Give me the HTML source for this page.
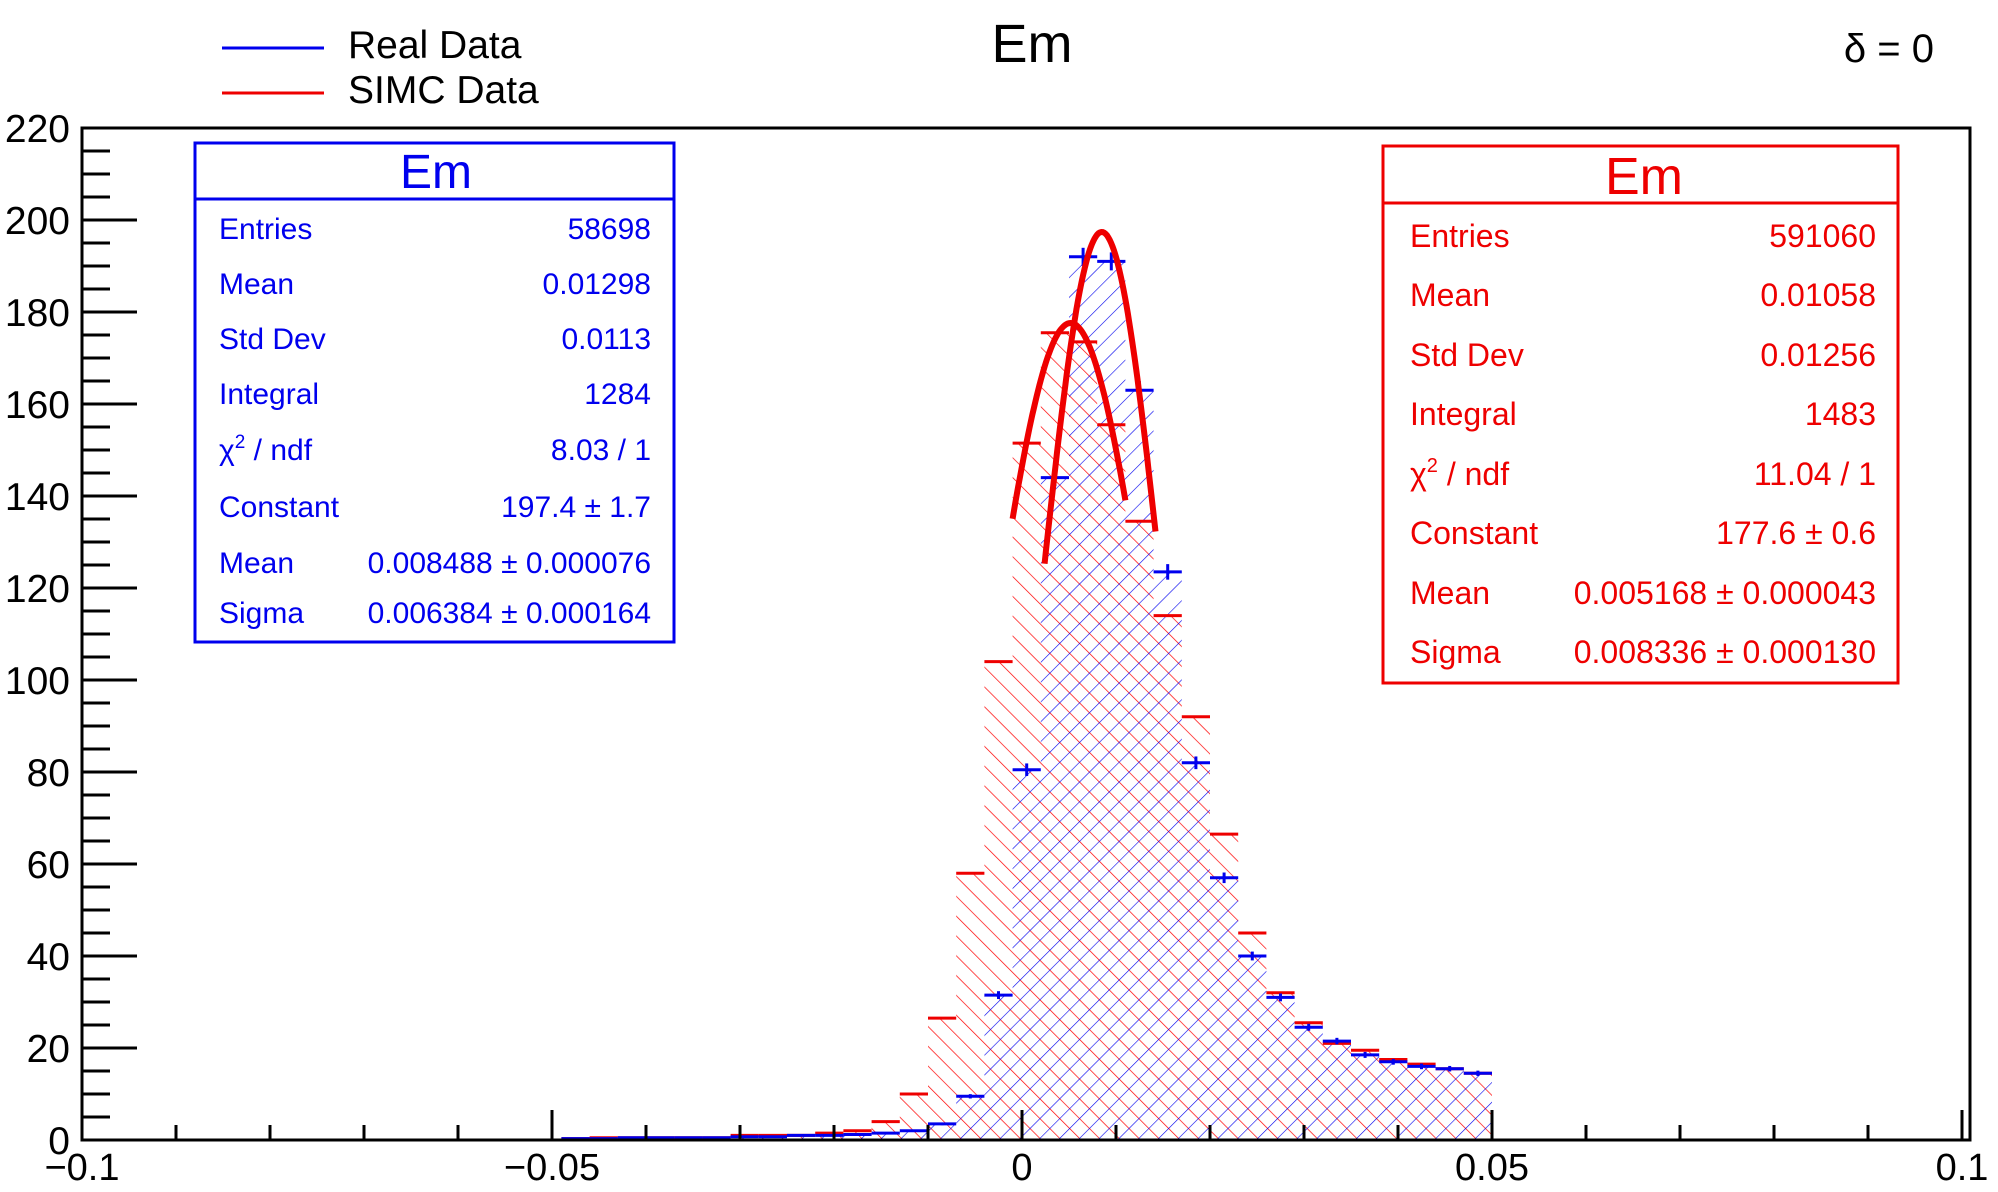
<!DOCTYPE html>
<html><head><meta charset="utf-8"><style>
html,body{margin:0;padding:0;background:#fff;}
svg{display:block;font-family:"Liberation Sans",sans-serif;}
</style></head><body>
<svg id="chart" width="1998" height="1192" viewBox="0 0 1998 1192" xmlns="http://www.w3.org/2000/svg">
<defs>
<pattern id="hatchRed" patternUnits="userSpaceOnUse" width="14" height="14" patternTransform="rotate(-45)">
<line x1="0" y1="0" x2="0" y2="14" stroke="#ff0000" stroke-width="1.4"/>
</pattern>
<pattern id="hatchBlue" patternUnits="userSpaceOnUse" width="14" height="14" patternTransform="rotate(45)">
<line x1="0" y1="0" x2="0" y2="14" stroke="#0000ee" stroke-width="1.2"/>
</pattern>
</defs>
<rect x="0" y="0" width="1998" height="1192" fill="#fff"/>
<g id="hist"></g>
<rect x="82" y="128" width="1888" height="1012" fill="none" stroke="#000" stroke-width="3"/>
<g id="axes"></g>

<text x="1032" y="62" font-size="54" text-anchor="middle">Em</text>
<text x="1934" y="62" font-size="40" text-anchor="end">δ = 0</text>

<g>
<line x1="222" y1="48" x2="324" y2="48" stroke="#0000ee" stroke-width="3"/>
<text x="348" y="58" font-size="39">Real Data</text>
<line x1="222" y1="93" x2="324" y2="93" stroke="#ee0000" stroke-width="3"/>
<text x="348" y="103" font-size="39">SIMC Data</text>
</g>

<g fill="#0000ee" font-size="30">
<rect x="195" y="143" width="479" height="499" fill="#fff" stroke="#0000ee" stroke-width="3"/>
<line x1="195" y1="199" x2="674" y2="199" stroke="#0000ee" stroke-width="3"/>
<text x="436" y="188" font-size="48" text-anchor="middle">Em</text>
<text x="219" y="239">Entries</text><text x="651" y="239" text-anchor="end">58698</text>
<text x="219" y="294">Mean</text><text x="651" y="294" text-anchor="end">0.01298</text>
<text x="219" y="349">Std Dev</text><text x="651" y="349" text-anchor="end">0.0113</text>
<text x="219" y="404">Integral</text><text x="651" y="404" text-anchor="end">1284</text>
<text x="219" y="460">χ<tspan font-size="19" dy="-12">2</tspan><tspan dy="12"> / ndf</tspan></text><text x="651" y="460" text-anchor="end">8.03 / 1</text>
<text x="219" y="517">Constant</text><text x="651" y="517" text-anchor="end">197.4 ± 1.7</text>
<text x="219" y="573">Mean</text><text x="651" y="573" text-anchor="end">0.008488 ± 0.000076</text>
<text x="219" y="623">Sigma</text><text x="651" y="623" text-anchor="end">0.006384 ± 0.000164</text>
</g>

<g fill="#ee0000" font-size="32">
<rect x="1383" y="146" width="515" height="537" fill="#fff" stroke="#ee0000" stroke-width="3"/>
<line x1="1383" y1="203" x2="1898" y2="203" stroke="#ee0000" stroke-width="3"/>
<text x="1644" y="194" font-size="52" text-anchor="middle">Em</text>
<text x="1410" y="247">Entries</text><text x="1876" y="247" text-anchor="end">591060</text>
<text x="1410" y="306">Mean</text><text x="1876" y="306" text-anchor="end">0.01058</text>
<text x="1410" y="366">Std Dev</text><text x="1876" y="366" text-anchor="end">0.01256</text>
<text x="1410" y="425">Integral</text><text x="1876" y="425" text-anchor="end">1483</text>
<text x="1410" y="485">χ<tspan font-size="20" dy="-13">2</tspan><tspan dy="13"> / ndf</tspan></text><text x="1876" y="485" text-anchor="end">11.04 / 1</text>
<text x="1410" y="544">Constant</text><text x="1876" y="544" text-anchor="end">177.6 ± 0.6</text>
<text x="1410" y="604">Mean</text><text x="1876" y="604" text-anchor="end">0.005168 ± 0.000043</text>
<text x="1410" y="663">Sigma</text><text x="1876" y="663" text-anchor="end">0.008336 ± 0.000130</text>
</g>
</svg>
<script>
// ---- data ----
const binStart = -0.049;
const binWidth = 0.003;
const simcValues = [0.3,0.5,0.5,0.5,0.5,0.5,1,1,1,1.5,2,4,10,26.5,58,104,151.5,175.5,173.5,155.5,134.5,114,92,66.5,45,32,25.5,21,19.5,17.5,16.5,15.5,14.5];
const realValues = [0.3,0.3,0.5,0.5,0.5,0.5,0.7,0.7,1,1,1.2,1.5,2,3.5,9.5,31.5,80.5,144,192,191,163,123.5,82,57,40,31,24.5,21.5,18.5,17,16,15.5,14.5];
const fitReal = [197.4, 0.008488, 0.006384];
const fitRealRange = [0.0024, 0.0142];
const fitSimc = [177.6, 0.005168, 0.008336];
const fitSimcRange = [-0.001, 0.011];
const xTickLabels = ["\u22120.1","\u22120.05","0","0.05","0.1"];
const xTickValues = [-0.1,-0.05,0,0.05,0.1];
const yTickValues = [0,20,40,60,80,100,120,140,160,180,200,220];

// ---- scales ----
const X0 = 82, Y0 = 1140, PXX = 9400, PXY = 4.6;
function sx(v){ return X0 + (v + 0.1) * PXX; }
function sy(v){ return Y0 - v * PXY; }
const NS = "http://www.w3.org/2000/svg";
function mk(tag, attrs, parent){ const e=document.createElementNS(NS,tag); for(const k in attrs) e.setAttribute(k,attrs[k]); parent.appendChild(e); return e; }

const hist = document.getElementById('hist');
const axes = document.getElementById('axes');

function areaPath(vals){
  let d = "M" + sx(binStart) + "," + sy(0);
  vals.forEach((v,i)=>{ const a=sx(binStart+i*binWidth), b=sx(binStart+(i+1)*binWidth); d += " L"+a+","+sy(v)+" L"+b+","+sy(v); });
  d += " L" + sx(binStart+vals.length*binWidth) + "," + sy(0) + " Z";
  return d;
}
const ra = mk('path',{d:areaPath(simcValues),fill:'url(#hatchRed)',stroke:'none'},hist);


const ba = mk('path',{d:areaPath(realValues),fill:'url(#hatchBlue)',stroke:'none'},hist);



simcValues.forEach((v,i)=>{
  const a=sx(binStart+i*binWidth), b=sx(binStart+(i+1)*binWidth);
  const l = mk('line',{x1:a,y1:sy(v),x2:b,y2:sy(v),stroke:'#ee0000','stroke-width':3},hist);
  
  
});
realValues.forEach((v,i)=>{
  const a=sx(binStart+i*binWidth), b=sx(binStart+(i+1)*binWidth), c=(a+b)/2;
  const g = mk('g',{},hist);
  
  
  mk('line',{x1:a,y1:sy(v),x2:b,y2:sy(v),stroke:'#0000ee','stroke-width':3},g);
  const e = Math.min(9, Math.sqrt(v)*0.7);
  mk('line',{x1:c,y1:sy(v)-e,x2:c,y2:sy(v)+e,stroke:'#0000ee','stroke-width':3},g);
});

function fitPath(p, r){
  let d="";
  const n=80;
  for(let k=0;k<=n;k++){ const x=r[0]+(r[1]-r[0])*k/n; const y=p[0]*Math.exp(-0.5*Math.pow((x-p[1])/p[2],2)); d+=(k?" L":"M")+sx(x).toFixed(1)+","+sy(y).toFixed(1); }
  return d;
}
const f1 = mk('path',{d:fitPath(fitSimc,fitSimcRange),fill:'none',stroke:'#ee0000','stroke-width':6},hist);


const f2 = mk('path',{d:fitPath(fitReal,fitRealRange),fill:'none',stroke:'#ee0000','stroke-width':6},hist);



for(let k=0;k<=20;k++){
  const v=-0.1+k*0.01; const major=(k%5===0);
  const t = mk('line',{x1:sx(v),y1:Y0,x2:sx(v),y2:Y0-(major?30:15),stroke:'#000','stroke-width':3},axes);
  
  
}
xTickValues.forEach((v,i)=>{
  const t = mk('text',{x:sx(v),y:1180,'font-size':38,'text-anchor':'middle'},axes);
  t.textContent = xTickLabels[i];
  
  
});
for(let v=0; v<=220; v+=5){
  const major=(v%20===0);
  const t = mk('line',{x1:X0,y1:sy(v),x2:X0+(major?55:28),y2:sy(v),stroke:'#000','stroke-width':3},axes);
  
  
}
yTickValues.forEach(v=>{
  const t = mk('text',{x:70,y:sy(v)+14,'font-size':39,'text-anchor':'end'},axes);
  t.textContent = String(v);
  
  
});
</script>
</body></html>
